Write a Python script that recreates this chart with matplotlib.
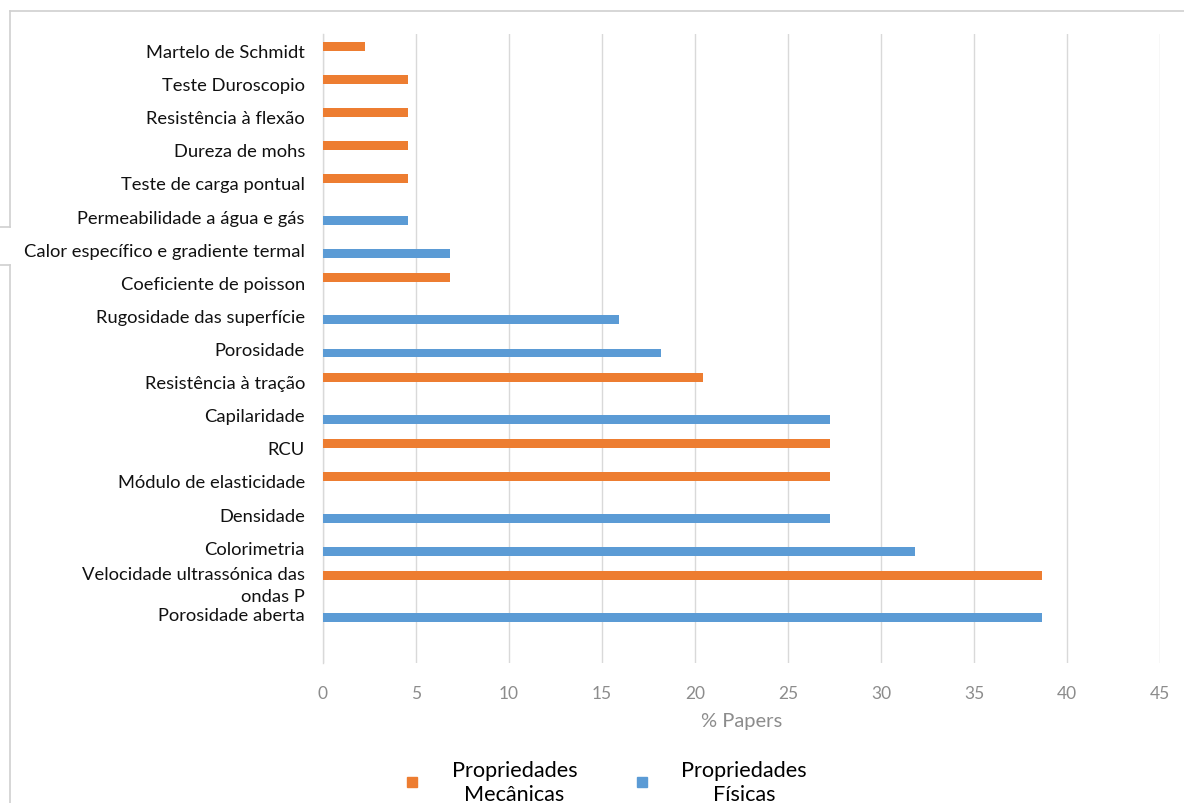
import matplotlib
matplotlib.use("Agg")
import matplotlib.pyplot as plt
import numpy as np
from matplotlib.lines import Line2D

plt.rcParams['font.family'] = ['Lato', 'DejaVu Sans']

categories = ["Martelo de Schmidt", "Teste Duroscopio", "Resistência à flexão",
              "Dureza de mohs", "Teste de carga pontual", "Permeabilidade a água e gás",
              "Calor específico e gradiente termal", "Coeficiente de poisson",
              "Rugosidade das superfície", "Porosidade", "Resistência à tração",
              "Capilaridade", "RCU", "Módulo de elasticidade", "Densidade",
              "Colorimetria", "Velocidade ultrassónica das\nondas P", "Porosidade aberta"]
mecanicas = [2.27, 4.55, 4.55, 4.55, 4.55, 0, 0, 6.82, 0, 0, 20.45, 0, 27.27, 27.27,
             0, 0, 38.64, 0]
fisicas = [0, 0, 0, 0, 0, 4.55, 6.82, 0, 15.91, 18.18, 0, 27.27, 0, 0, 27.27, 31.82,
           0, 38.64]
xticks = [0, 5, 10, 15, 20, 25, 30, 35, 40, 45]
series_names = ["Propriedades\nMecânicas", "Propriedades\nFísicas"]

ORANGE = "#ED7D31"
BLUE = "#5B9BD5"
GRID = "#D9D9D9"
BORDER = "#D0D0D0"

W, H = 1184, 804
fig = plt.figure(figsize=(W / 100, H / 100), dpi=100)
ax = fig.add_axes([323 / W, 1 - 664 / H, (1160 - 323) / W, (664 - 35) / H])

y = np.arange(len(categories))
bh = 0.27
ax.barh(y - bh / 2, mecanicas, height=bh, color=ORANGE, zorder=3)
ax.barh(y + bh / 2, fisicas, height=bh, color=BLUE, zorder=3)

ax.set_ylim(len(categories) + 0.5, -0.5)
ax.set_xlim(0, 45)
ax.set_xticks(xticks)
ax.set_xticklabels([str(v) for v in xticks])
ax.set_yticks(y)
ax.set_yticklabels(categories)
ax.tick_params(axis='both', length=0)
ax.tick_params(axis='y', pad=13, labelsize=13.2, labelcolor='#111111')
ax.tick_params(axis='x', pad=16, labelsize=12.5, labelcolor='#8C8C8C')
for lab in ax.get_yticklabels():
    lab.set_multialignment('right')
    lab.set_linespacing(1.45)

ax.xaxis.grid(True, color=GRID, linewidth=1.0, zorder=0)
ax.set_axisbelow(True)
for s in ['top', 'right', 'bottom']:
    ax.spines[s].set_visible(False)
ax.spines['left'].set_color(GRID)
ax.spines['left'].set_linewidth(1.0)

ax.set_xlabel("% Papers", fontsize=14.5, color='#8C8C8C', labelpad=8)

# chart area border (interrupted where a label box overlaps it)
def fline(xs, ys):
    fig.add_artist(Line2D([v / W for v in xs], [1 - v / H for v in ys],
                          transform=fig.transFigure, color=BORDER, lw=1.2, zorder=-1))

fline([10, W], [12, 12])
fline([10, 10], [12, 228])
fline([10, 10], [266, H])
fline([0, 10], [228, 228])
fline([0, 10], [266, 266])

handles = [Line2D([], [], marker='s', linestyle='none', color=ORANGE, markersize=7.5),
           Line2D([], [], marker='s', linestyle='none', color=BLUE, markersize=7.5)]
leg = fig.legend(handles, series_names, loc='center', bbox_to_anchor=(604 / W, 1 - 783 / H),
                 ncol=2, frameon=False, fontsize=15.6, handlelength=1.0, handletextpad=1.32,
                 columnspacing=2.47, labelspacing=0, borderpad=0)
for t in leg.get_texts():
    t.set_multialignment('center')
    t.set_linespacing(1.25)

fig.savefig("out.png", dpi=100)
